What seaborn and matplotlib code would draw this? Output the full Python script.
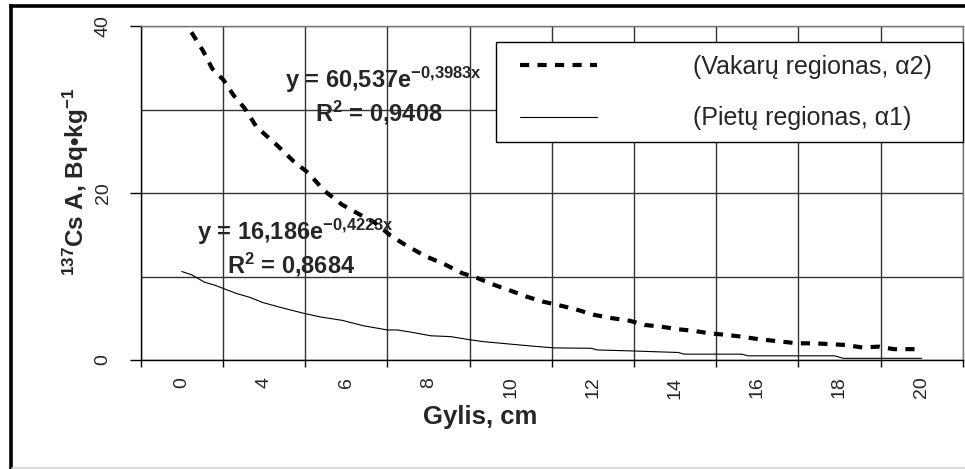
import numpy as np
import pandas as pd
import matplotlib
matplotlib.use("Agg")
import matplotlib.pyplot as plt
import seaborn as sns
from matplotlib.patches import Rectangle
from matplotlib.lines import Line2D

# ---------------- data ----------------
x_labels = ["0", "4", "6", "8", "10", "12", "14", "16", "18", "20"]

vak_x = [0.0, 0.12, 0.26, 0.37, 0.51, 0.63, 0.76, 0.91, 1.15, 1.36, 1.54, 1.73,
         1.95, 2.15, 2.34, 2.54, 2.70, 2.95, 3.21, 3.41, 3.60, 3.80, 4.00, 4.19,
         4.39, 4.57, 4.78, 5.02, 5.24, 5.45, 5.63, 5.83, 6.02, 6.22, 6.42, 6.63,
         6.81, 7.01, 7.30, 7.48, 7.68, 7.89, 8.07, 8.28, 8.48, 8.66, 8.86, 9.00]
vak_y = [41.0, 39.2, 37.0, 34.9, 33.5, 31.7, 30.2, 27.9, 25.8, 23.8, 22.4, 20.3,
         18.6, 17.5, 16.5, 14.9, 13.9, 12.5, 11.4, 10.4, 9.8, 9.0, 8.3, 7.6,
         7.0, 6.6, 6.1, 5.4, 5.0, 4.7, 4.2, 4.0, 3.7, 3.5, 3.2, 3.0,
         2.8, 2.5, 2.2, 2.0, 2.0, 1.9, 1.8, 1.5, 1.6, 1.3, 1.3, 1.3]

pie_x = [0.0, 0.12, 0.28, 0.39, 0.51, 0.67, 0.83, 0.98, 1.20, 1.48, 1.69, 1.95,
         2.21, 2.50, 2.62, 2.78, 3.03, 3.27, 3.52, 3.67, 4.00, 4.28, 4.53, 4.98,
         5.06, 5.43, 6.04, 6.11, 6.81, 6.89, 7.94, 8.05, 9.00]
pie_y = [10.6, 10.2, 9.3, 9.0, 8.55, 7.95, 7.5, 6.9, 6.3, 5.6, 5.15, 4.75,
         4.1, 3.6, 3.6, 3.35, 2.9, 2.8, 2.4, 2.2, 1.9, 1.65, 1.45, 1.4,
         1.2, 1.1, 0.9, 0.7, 0.7, 0.5, 0.5, 0.2, 0.2]

vak_name = "(Vakarų regionas, α2)"
pie_name = "(Pietų regionas, α1)"
vak_eq = r"y = 60,537e$^{\mathbf{-0{,}3983x}}$"
vak_r2 = r"R$^{\mathbf{2}}$ = 0,9408"
pie_eq = r"y = 16,186e$^{\mathbf{-0{,}4223x}}$"
pie_r2 = r"R$^{\mathbf{2}}$ = 0,8684"
x_title = "Gylis, cm"
y_title = r"$^{\mathbf{137}}$Cs A, Bq•kg$^{\mathbf{-1}}$"

# ---------------- style ----------------
sns.set_style("white")
plt.rcParams["font.family"] = ["Liberation Sans", "DejaVu Sans"]
plt.rcParams["mathtext.fontset"] = "custom"
plt.rcParams["mathtext.rm"] = "Liberation Sans"
plt.rcParams["mathtext.bf"] = "Liberation Sans:bold"
plt.rcParams["mathtext.it"] = "Liberation Sans:italic"

W, H = 965, 469
fig = plt.figure(figsize=(W / 100, H / 100), dpi=100)
fig.patch.set_facecolor("white")
L, R, T, B = 140.7, 962.7, 26.0, 360.0
ax = fig.add_axes([L / W, 1 - B / H, (R - L) / W, (B - T) / H])
ax.set_facecolor("white")

df_v = pd.DataFrame({"x": vak_x, "y": vak_y})
df_p = pd.DataFrame({"x": pie_x, "y": pie_y})
sns.lineplot(data=df_v, x="x", y="y", ax=ax, color="black", lw=3.0,
             linestyle=(0, (2.2, 2.0)), estimator=None, sort=False, zorder=3)
sns.lineplot(data=df_p, x="x", y="y", ax=ax, color="black", lw=0.8,
             estimator=None, sort=False, zorder=3)

ax.set_xlim(-0.5, 9.5)
ax.set_ylim(0, 40)
ax.set_xticks(range(len(x_labels)))
ax.set_xticklabels(x_labels, rotation=90, fontsize=14)
ax.set_xticks(np.arange(-0.5, len(x_labels), 1.0), minor=True)
ax.tick_params(axis="x", which="major", length=0, pad=12)
ax.tick_params(axis="x", which="minor", length=5, width=1, direction="out",
               color="black", bottom=True)
ax.set_yticks([0, 20, 40])
ax.set_yticklabels(["0", "20", "40"], rotation=90, fontsize=14, va="center")
ax.set_yticks([10, 30], minor=True)
ax.tick_params(axis="y", which="major", length=8, width=1, pad=13,
               direction="out", color="black", left=True)
ax.tick_params(axis="y", which="minor", length=0)
ax.xaxis.grid(False, which="major")
ax.xaxis.grid(True, which="minor", color="#333333", lw=1)
ax.yaxis.grid(True, which="both", color="#333333", lw=1)
ax.set_axisbelow(True)

for s in ["left", "bottom"]:
    ax.spines[s].set_color("black")
    ax.spines[s].set_linewidth(1)
for s in ["top", "right"]:
    ax.spines[s].set_color("#777777")
    ax.spines[s].set_linewidth(1)

ax.set_xlabel(x_title, fontsize=18.5, fontweight="bold")
ax.xaxis.set_label_coords((480 - L) / (R - L), (B - 405) / (B - T))
ax.set_ylabel("")
fig.text(76 / W, 1 - 182 / H, y_title, rotation=90, ha="center", va="center",
         fontsize=17.5, fontweight="bold")


def axfrac(px, py):
    return (px - L) / (R - L), (B - py) / (B - T)


for txt, (px, py) in [(vak_eq, (285, 88)), (vak_r2, (315, 121.5)),
                      (pie_eq, (196.7, 240)), (pie_r2, (227, 273))]:
    fx, fy = axfrac(px, py)
    ax.text(fx, fy, txt, transform=ax.transAxes, fontsize=17,
            fontweight="bold", ha="left", va="baseline", zorder=4)

# legend frame + legend (figure level so it sits above the axes)
fig.add_artist(Rectangle((496 / W, 1 - 142 / H), (963 - 496) / W, 100 / H,
                         transform=fig.transFigure, facecolor="white",
                         edgecolor="black", lw=1, zorder=4))
handles = [ax.lines[0], ax.lines[1]]
fs_leg = 18
em = fs_leg * 100 / 72
fig.legend(handles, [vak_name, pie_name], loc="upper left",
           bbox_to_anchor=(520 / W, 1 - 55 / H), bbox_transform=fig.transFigure,
           frameon=False, borderpad=0, borderaxespad=0,
           handlelength=77 / em, handletextpad=96 / em, labelspacing=1.1,
           fontsize=fs_leg)

# outer chart frame
fig.add_artist(Line2D([10.5 / W, 10.5 / W], [0, 1 - 6.5 / H], color="black",
                      lw=2.6, transform=fig.transFigure, solid_capstyle="projecting"))
fig.add_artist(Line2D([10.5 / W, 1], [1 - 6.5 / H, 1 - 6.5 / H], color="black",
                      lw=2.6, transform=fig.transFigure, solid_capstyle="projecting"))
fig.add_artist(Line2D([12 / W, 1], [1 - 467.5 / H, 1 - 467.5 / H], color="#d4d4d4",
                      lw=1.2, transform=fig.transFigure))

fig.savefig("out.png", dpi=100, facecolor="white")
